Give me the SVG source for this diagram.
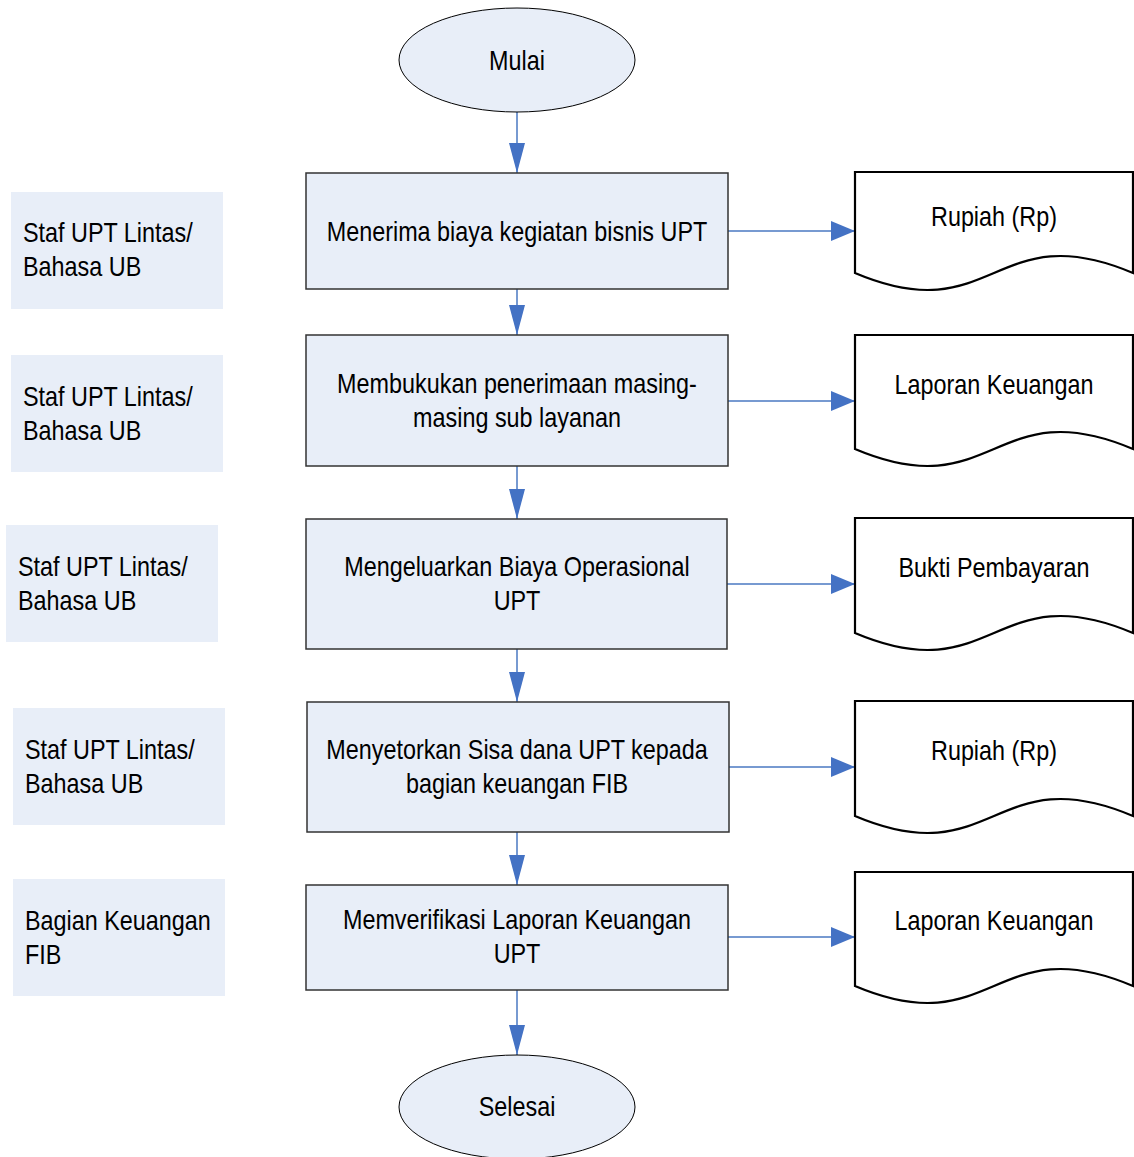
<svg xmlns="http://www.w3.org/2000/svg" width="1134" height="1157" viewBox="0 0 1134 1157">
<style>
text{font-family:"Liberation Sans",Arial,sans-serif;font-size:28px;fill:#000}
.c{text-anchor:middle}
.proc{fill:#e8eef8;stroke:#333;stroke-width:1.5}
.term{fill:#e8eef8;stroke:#000;stroke-width:1}
.doc{fill:#fff;stroke:#000;stroke-width:2.2}
.lane{fill:#e8eef8;stroke:none}
.con{stroke:#4a78c2;stroke-width:1.5;fill:none}
</style>
<defs>
<marker id="av" markerUnits="userSpaceOnUse" markerWidth="30" markerHeight="16" refX="30" refY="8" orient="auto"><path d="M0,0 L30,8 L0,16 z" fill="#4472c4"/></marker>
<marker id="ah" markerUnits="userSpaceOnUse" markerWidth="24" markerHeight="20" refX="24" refY="10" orient="auto"><path d="M0,0 L24,10 L0,20 z" fill="#4472c4"/></marker>
</defs>
<g id="connectors">
<line class="con" x1="517" y1="112" x2="517" y2="173" marker-end="url(#av)"/>
<line class="con" x1="517" y1="289" x2="517" y2="335" marker-end="url(#av)"/>
<line class="con" x1="517" y1="466" x2="517" y2="519" marker-end="url(#av)"/>
<line class="con" x1="517" y1="649" x2="517" y2="702" marker-end="url(#av)"/>
<line class="con" x1="517" y1="832" x2="517" y2="885" marker-end="url(#av)"/>
<line class="con" x1="517" y1="990" x2="517" y2="1055" marker-end="url(#av)"/>
<line class="con" x1="728" y1="231" x2="855" y2="231" marker-end="url(#ah)"/>
<line class="con" x1="728" y1="401" x2="855" y2="401" marker-end="url(#ah)"/>
<line class="con" x1="727" y1="584" x2="855" y2="584" marker-end="url(#ah)"/>
<line class="con" x1="729" y1="767" x2="855" y2="767" marker-end="url(#ah)"/>
<line class="con" x1="728" y1="937" x2="855" y2="937" marker-end="url(#ah)"/>
</g>
<g id="start"><ellipse class="term" cx="517" cy="60" rx="118" ry="52"/><text class="c" transform="translate(517,70) scale(0.835,1)">Mulai</text></g>
<g id="end"><ellipse class="term" cx="517" cy="1107" rx="118" ry="52"/><text class="c" transform="translate(517,1116) scale(0.835,1)">Selesai</text></g>
<g id="p1"><rect class="proc" x="306" y="173" width="422" height="116"/><text class="c" transform="translate(517,241) scale(0.835,1)">Menerima biaya kegiatan bisnis UPT</text></g>
<g id="p2"><rect class="proc" x="306" y="335" width="422" height="131"/><text class="c" transform="translate(517,393) scale(0.835,1)">Membukukan penerimaan masing-</text><text class="c" transform="translate(517,427) scale(0.835,1)">masing sub layanan</text></g>
<g id="p3"><rect class="proc" x="306" y="519" width="421" height="130"/><text class="c" transform="translate(517,576) scale(0.835,1)">Mengeluarkan Biaya Operasional</text><text class="c" transform="translate(517,610) scale(0.835,1)">UPT</text></g>
<g id="p4"><rect class="proc" x="307" y="702" width="422" height="130"/><text class="c" transform="translate(517,759) scale(0.835,1)">Menyetorkan Sisa dana UPT kepada</text><text class="c" transform="translate(517,793) scale(0.835,1)">bagian keuangan FIB</text></g>
<g id="p5"><rect class="proc" x="306" y="885" width="422" height="105"/><text class="c" transform="translate(517,929) scale(0.835,1)">Memverifikasi Laporan Keuangan</text><text class="c" transform="translate(517,963) scale(0.835,1)">UPT</text></g>
<g id="d1"><path class="doc" d="M855,172 L1133,172 L1133,273 C994,214 994,332 855,273 Z"/><text class="c" transform="translate(994,226) scale(0.835,1)">Rupiah (Rp)</text></g>
<g id="d2"><path class="doc" d="M855,335 L1133,335 L1133,449 C994,390 994,508 855,449 Z"/><text class="c" transform="translate(994,394) scale(0.835,1)">Laporan Keuangan</text></g>
<g id="d3"><path class="doc" d="M855,518 L1133,518 L1133,633 C994,574 994,692 855,633 Z"/><text class="c" transform="translate(994,577) scale(0.835,1)">Bukti Pembayaran</text></g>
<g id="d4"><path class="doc" d="M855,701 L1133,701 L1133,816 C994,757 994,875 855,816 Z"/><text class="c" transform="translate(994,760) scale(0.835,1)">Rupiah (Rp)</text></g>
<g id="d5"><path class="doc" d="M855,872 L1133,872 L1133,986 C994,927 994,1045 855,986 Z"/><text class="c" transform="translate(994,930) scale(0.835,1)">Laporan Keuangan</text></g>
<g id="l1"><rect class="lane" x="11" y="192" width="212" height="117"/><text transform="translate(23,242) scale(0.835,1)">Staf UPT Lintas/</text><text transform="translate(23,276) scale(0.835,1)">Bahasa UB</text></g>
<g id="l2"><rect class="lane" x="11" y="355" width="212" height="117"/><text transform="translate(23,406) scale(0.835,1)">Staf UPT Lintas/</text><text transform="translate(23,440) scale(0.835,1)">Bahasa UB</text></g>
<g id="l3"><rect class="lane" x="6" y="525" width="212" height="117"/><text transform="translate(18,576) scale(0.835,1)">Staf UPT Lintas/</text><text transform="translate(18,610) scale(0.835,1)">Bahasa UB</text></g>
<g id="l4"><rect class="lane" x="13" y="708" width="212" height="117"/><text transform="translate(25,759) scale(0.835,1)">Staf UPT Lintas/</text><text transform="translate(25,793) scale(0.835,1)">Bahasa UB</text></g>
<g id="l5"><rect class="lane" x="13" y="879" width="212" height="117"/><text transform="translate(25,930) scale(0.835,1)">Bagian Keuangan</text><text transform="translate(25,964) scale(0.835,1)">FIB</text></g>
</svg>
